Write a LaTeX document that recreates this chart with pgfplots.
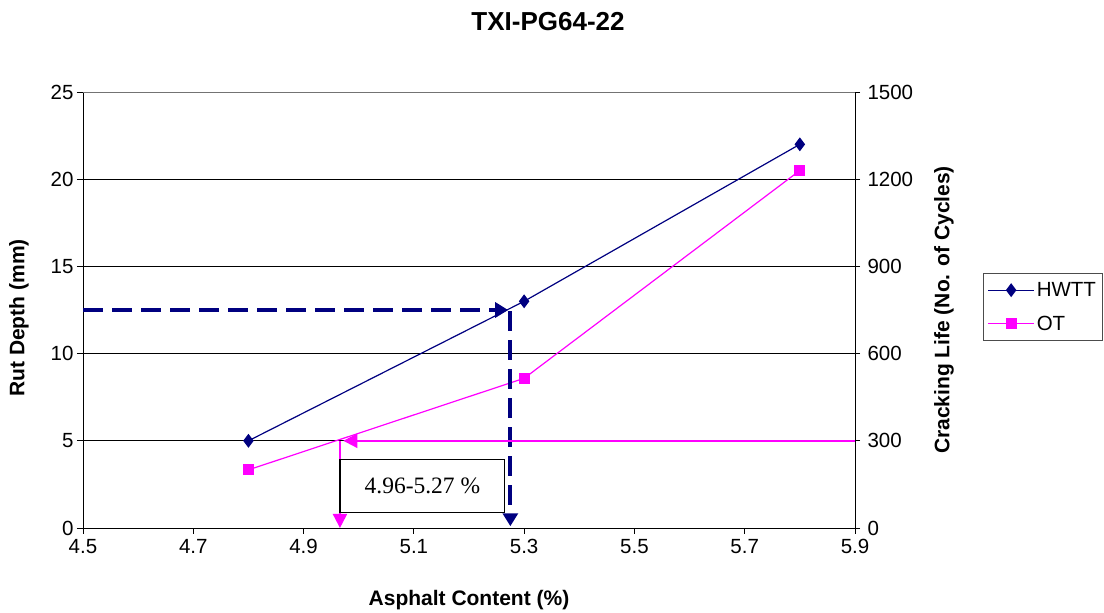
\documentclass[border=0pt]{standalone}
\usepackage{fontspec}
\setmainfont{Liberation Sans}
\newfontfamily\timesfont{Liberation Serif}
\usepackage{pgfplots}
\pgfplotsset{compat=1.18}
\usetikzlibrary{arrows.meta}
\definecolor{navy}{RGB}{0,0,128}
\definecolor{mag}{RGB}{255,0,255}
\begin{document}
\begin{tikzpicture}
\useasboundingbox (-83pt,-85pt) rectangle (1021pt,528pt);
\begin{axis}[
  scale only axis, width=772pt, height=436pt,
  xmin=4.5, xmax=5.9, ymin=0, ymax=25,
  xtick={4.5,4.7,4.9,5.1,5.3,5.5,5.7,5.9},
  ytick={0,5,10,15,20,25},
  /pgf/number format/assume math mode=true,
  tick label style={font=\fontsize{20.5}{24}\selectfont},
  xticklabel style={yshift=-2pt, /pgf/number format/fixed, /pgf/number format/fixed zerofill, /pgf/number format/precision=1},
  xtick pos=bottom, ytick pos=left, tick align=outside,
  major tick length=6pt,
  tick style={black, line width=0.8pt},
  ymajorgrids, grid style={black, line width=0.8pt},
  axis line style={black, line width=0.8pt},
  legend style={at={(1.166,0.585)}, anchor=north west, draw=black!70, line width=0.8pt,
    font=\fontsize{20.5}{24}\selectfont, inner xsep=4pt, inner ysep=7pt, row sep=14pt, cells={anchor=west}},
  legend image code/.code={\draw[mark repeat=2,mark phase=2,#1] plot coordinates {(0pt,0pt) (23pt,0pt) (46pt,0pt)};},
]
\addplot[navy, line width=1.2pt, mark=diamond*, mark size=6pt, mark options={solid}] coordinates {
  (4.8,5) (5.3,13) (5.8,22)
};
\addlegendentry{HWTT}
\addlegendimage{mag, line width=1.2pt, mark=square*, mark size=5pt}
\addlegendentry{OT}
\end{axis}
\begin{axis}[
  scale only axis, width=772pt, height=436pt,
  xmin=4.5, xmax=5.9, ymin=0, ymax=1500,
  axis x line=none, axis y line*=right,
  ytick={0,300,600,900,1200,1500},
  /pgf/number format/assume math mode=true,
  /pgf/number format/1000 sep={},
  tick label style={font=\fontsize{20.5}{24}\selectfont},
  yticklabel style={xshift=4pt},
  tick align=center, major tick length=10pt,
  tick style={black, line width=0.8pt},
  axis line style={black, line width=0.8pt, -},
]
\draw[black!55, line width=0.8pt] (rel axis cs:0,1) -- (rel axis cs:1,1);
\addplot[mag, line width=1.2pt, mark=square*, mark size=5pt] coordinates {
  (4.8,200) (5.3,515) (5.8,1230)
};
% annotation lines
\addplot[navy, line width=4pt, dash pattern=on 20pt off 9pt, -{Triangle[length=13pt,width=15pt]}] coordinates {(4.5,750) (5.271,750)};
\addplot[navy, line width=4pt, dash pattern=on 20pt off 9pt, -{Triangle[length=13pt,width=15pt]}] coordinates {(5.275,745) (5.275,6)};
\addplot[mag, line width=2pt, -{Triangle[length=14pt,width=14pt]}] coordinates {(5.9,300) (4.972,300)};
\addplot[mag, line width=2pt, -{Triangle[length=14pt,width=14pt]}] coordinates {(4.966,300) (4.966,0)};
\draw[black, fill=white, line width=1.2pt] (axis cs:4.966,52) rectangle (axis cs:5.265,237)
  node[midway, font=\timesfont\fontsize{23.5}{27}\selectfont] {4.96-5.27 \%};
\end{axis}
\node[font=\bfseries\fontsize{26}{30}\selectfont] at (465pt,506pt) {TXI-PG64-22};
\node[font=\bfseries\fontsize{21}{25}\selectfont] at (386pt,-72pt) {Asphalt Content (\%)};
\node[font=\bfseries\fontsize{21}{25}\selectfont, rotate=90] at (-64pt,210pt) {Rut Depth (mm)};
\node[font=\bfseries\fontsize{21}{25}\selectfont, rotate=90] at (861pt,218pt) {Cracking Life (No. of Cycles)};
\end{tikzpicture}
\end{document}
